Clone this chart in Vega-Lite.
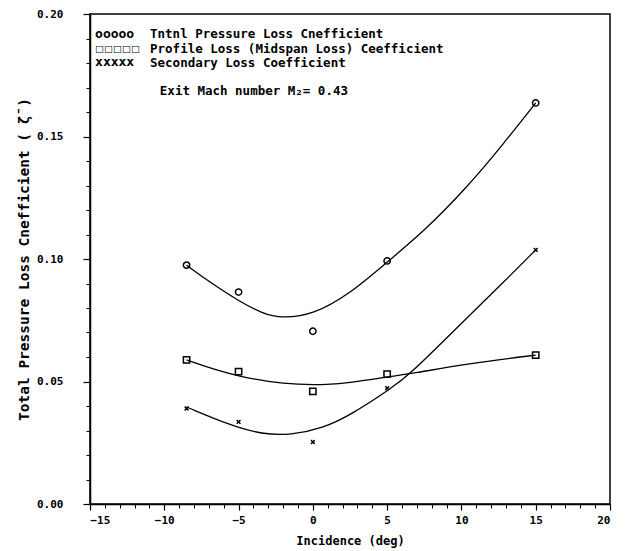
{
  "$schema": "https://vega.github.io/schema/vega-lite/v6.json",
  "width": 520,
  "height": 490,
  "autosize": {"type": "none"},
  "padding": {"left": 90, "top": 14, "right": 15, "bottom": 47},
  "background": "white",
  "config": {
    "view": {"stroke": "black", "strokeWidth": 1.5},
    "font": "DejaVu Sans Mono",
    "axis": {"domainColor": "black", "tickColor": "black", "labelColor": "black", "titleColor": "black", "grid": false}
  },
  "datasets": {
    "curves": [
      {"series": "Total", "x": -8.5, "y": 0.0975},
      {"series": "Total", "x": -7.1, "y": 0.0912},
      {"series": "Total", "x": -4.9, "y": 0.0825},
      {"series": "Total", "x": -3.4, "y": 0.0778},
      {"series": "Total", "x": -2.1, "y": 0.0758},
      {"series": "Total", "x": 0, "y": 0.0772},
      {"series": "Total", "x": 2.5, "y": 0.0858},
      {"series": "Total", "x": 5.0, "y": 0.0988},
      {"series": "Total", "x": 7.4, "y": 0.1108},
      {"series": "Total", "x": 10.4, "y": 0.1294},
      {"series": "Total", "x": 12.8, "y": 0.1468},
      {"series": "Total", "x": 15, "y": 0.1637},
      {"series": "Profile", "x": -8.5, "y": 0.0588},
      {"series": "Profile", "x": -6.5, "y": 0.0546},
      {"series": "Profile", "x": -5, "y": 0.0522},
      {"series": "Profile", "x": -3, "y": 0.0499},
      {"series": "Profile", "x": -1, "y": 0.0487},
      {"series": "Profile", "x": 1, "y": 0.0487},
      {"series": "Profile", "x": 2.5, "y": 0.0495},
      {"series": "Profile", "x": 5, "y": 0.0518},
      {"series": "Profile", "x": 6.7, "y": 0.0533},
      {"series": "Profile", "x": 10.4, "y": 0.0572},
      {"series": "Profile", "x": 15, "y": 0.0608},
      {"series": "Secondary", "x": -8.5, "y": 0.0396},
      {"series": "Secondary", "x": -5.6, "y": 0.0322},
      {"series": "Secondary", "x": -3.4, "y": 0.0284},
      {"series": "Secondary", "x": -1.5, "y": 0.0281},
      {"series": "Secondary", "x": 0.7, "y": 0.031},
      {"series": "Secondary", "x": 2.5, "y": 0.0362},
      {"series": "Secondary", "x": 5.2, "y": 0.0468},
      {"series": "Secondary", "x": 6.7, "y": 0.0538},
      {"series": "Secondary", "x": 10.4, "y": 0.0762},
      {"series": "Secondary", "x": 12.8, "y": 0.0903},
      {"series": "Secondary", "x": 15, "y": 0.1037}
    ],
    "points": [
      {"series": "Total", "x": -8.5, "y": 0.0975},
      {"series": "Total", "x": -5, "y": 0.0865},
      {"series": "Total", "x": 0, "y": 0.0705},
      {"series": "Total", "x": 5, "y": 0.0992},
      {"series": "Total", "x": 15, "y": 0.1637},
      {"series": "Profile", "x": -8.5, "y": 0.0588},
      {"series": "Profile", "x": -5, "y": 0.054},
      {"series": "Profile", "x": 0, "y": 0.046},
      {"series": "Profile", "x": 5, "y": 0.053},
      {"series": "Profile", "x": 15, "y": 0.0608},
      {"series": "Secondary", "x": -8.5, "y": 0.039},
      {"series": "Secondary", "x": -5, "y": 0.0335},
      {"series": "Secondary", "x": 0, "y": 0.0253},
      {"series": "Secondary", "x": 5, "y": 0.0473},
      {"series": "Secondary", "x": 15, "y": 0.1037}
    ],
    "symbolsBig": [
      {"x": -14.66, "y": 0.1919, "text": "ooooo"},
      {"x": -14.66, "y": 0.1803, "text": "xxxxx"}
    ],
    "symbolsSquare": [
      {"x": -14.66, "y": 0.1859, "text": "□□□□□"}
    ],
    "notes": [
      {"x": -10.96, "y": 0.1917, "text": "Tntnl Pressure Loss Cnefficient"},
      {"x": -10.96, "y": 0.1859, "text": "Profile Loss (Midspan Loss) Ceefficient"},
      {"x": -10.96, "y": 0.1801, "text": "Secondary Loss Coefficient"},
      {"x": -10.3, "y": 0.1686, "text": "Exit Mach number M₂=  0.43"}
    ]
  },
  "layer": [
    {
      "data": {"name": "curves"},
      "mark": {"type": "line", "interpolate": "basis", "color": "black", "strokeWidth": 1.3},
      "encoding": {
        "x": {
          "field": "x", "type": "quantitative",
          "scale": {"domain": [-15, 20], "nice": false, "zero": false},
          "axis": {
            "orient": "bottom", "values": [-15, -10, -5, 0, 5, 10, 15, 20],
            "tickSize": 6, "labelPadding": 4, "labelFontSize": 11, "labelFontWeight": "bold",
            "domainWidth": 1.5, "tickWidth": 1.2,
            "title": "Incidence (deg)", "titleFontSize": 12, "titleFontWeight": "bold", "titlePadding": 10
          }
        },
        "y": {
          "field": "y", "type": "quantitative",
          "scale": {"domain": [0, 0.2], "nice": false},
          "axis": {
            "orient": "left", "values": [0, 0.05, 0.1, 0.15, 0.2], "format": ".2f",
            "tickSize": 7, "labelPadding": 20, "labelFontSize": 11, "labelFontWeight": "bold",
            "domainWidth": 1.5, "tickWidth": 1.2,
            "title": "Total Pressure Loss Cnefficient ( ζ̄ )", "titleFontSize": 14.5, "titleFontWeight": "bold", "titlePadding": 5
          }
        },
        "detail": {"field": "series"}
      }
    },
    {
      "data": {"name": "points"},
      "mark": {"type": "point", "filled": false, "color": "black", "strokeWidth": 1.5, "size": 40, "opacity": 1},
      "encoding": {
        "x": {"field": "x", "type": "quantitative", "axis": null},
        "y": {"field": "y", "type": "quantitative", "axis": null},
        "shape": {
          "field": "series", "type": "nominal", "legend": null,
          "scale": {"domain": ["Total", "Profile", "Secondary"], "range": ["circle", "square", "M-0.6,-0.6L0.6,0.6M-0.6,0.6L0.6,-0.6"]}
        }
      }
    },
    {
      "data": {"name": "symbolsBig"},
      "mark": {"type": "text", "align": "left", "baseline": "middle", "font": "DejaVu Sans Mono", "fontWeight": "bold", "fontSize": 13, "color": "black"},
      "encoding": {
        "x": {"field": "x", "type": "quantitative", "axis": null},
        "y": {"field": "y", "type": "quantitative", "axis": null},
        "text": {"field": "text"}
      }
    },
    {
      "data": {"name": "symbolsSquare"},
      "mark": {"type": "text", "align": "left", "baseline": "middle", "font": "DejaVu Sans", "fontWeight": "bold", "fontSize": 9.5, "color": "black"},
      "encoding": {
        "x": {"field": "x", "type": "quantitative", "axis": null},
        "y": {"field": "y", "type": "quantitative", "axis": null},
        "text": {"field": "text"}
      }
    },
    {
      "data": {"name": "notes"},
      "mark": {"type": "text", "align": "left", "baseline": "middle", "font": "DejaVu Sans Mono", "fontWeight": "bold", "fontSize": 12.5, "color": "black"},
      "encoding": {
        "x": {"field": "x", "type": "quantitative", "axis": {"orient": "bottom", "values": [-14,-13,-12,-11,-9,-8,-7,-6,-4,-3,-2,-1,1,2,3,4,6,7,8,9,11,12,13,14,16,17,18,19], "labels": false, "domain": false, "tickSize": 4, "tickWidth": 1, "title": null}},
        "y": {"field": "y", "type": "quantitative", "axis": {"orient": "left", "values": [0.01,0.02,0.03,0.04,0.06,0.07,0.08,0.09,0.11,0.12,0.13,0.14,0.16,0.17,0.18,0.19], "labels": false, "domain": false, "tickSize": 4, "tickWidth": 1, "title": null}},
        "text": {"field": "text"}
      }
    }
  ],
  "resolve": {"axis": {"x": "independent", "y": "independent"}}
}
